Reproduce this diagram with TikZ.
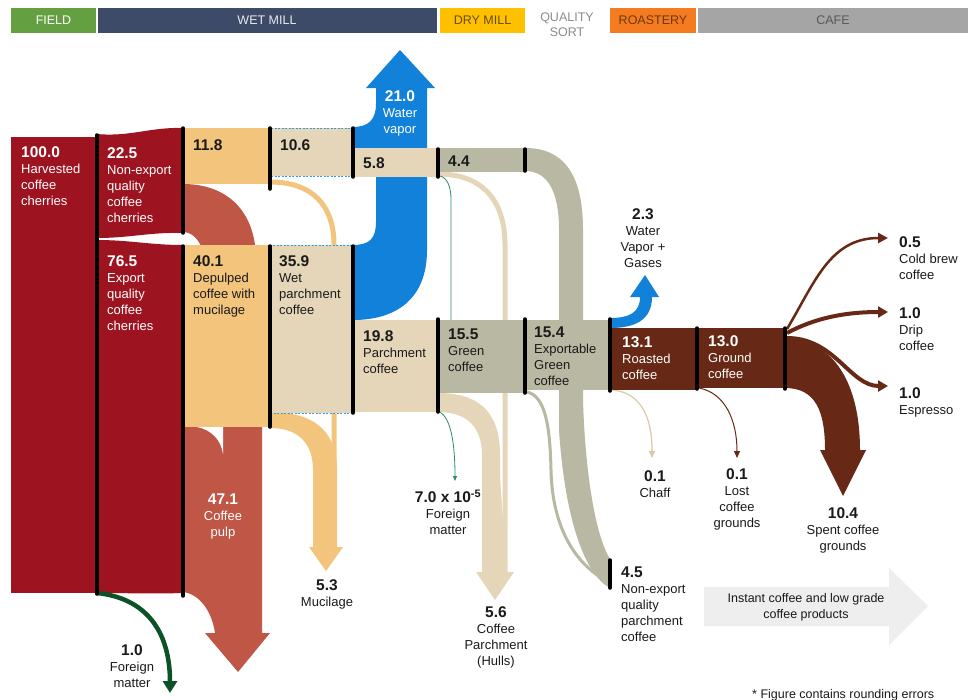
\documentclass[tikz,border=0pt]{standalone}
\usepackage{fontspec}
\setmainfont{Liberation Sans}
\usetikzlibrary{arrows.meta}
\newcommand{\fnum}[1]{{\fontsize{15.5}{16}\selectfont\bfseries #1}}
\definecolor{cRed}{HTML}{9D1420}
\definecolor{cPulp}{HTML}{BF5646}
\definecolor{cTan}{HTML}{F2C47C}
\definecolor{cBeige}{HTML}{E5D6B9}
\definecolor{cBeigeDark}{HTML}{DCC9A6}
\definecolor{cGray}{HTML}{B8B8A3}
\definecolor{cBrown}{HTML}{672915}
\definecolor{cBlue}{HTML}{1281DA}
\definecolor{cGreen}{HTML}{0B5226}
\definecolor{cTeal}{HTML}{2E8B6B}
\definecolor{cDash}{HTML}{2F9FE3}
\definecolor{cText}{HTML}{1A1A1A}
\definecolor{hGreen}{HTML}{64A041}
\definecolor{hNavy}{HTML}{3D4B68}
\definecolor{hYellow}{HTML}{FFC000}
\definecolor{hOrange}{HTML}{F47B20}
\definecolor{hGrayBox}{HTML}{A5A5A5}
\definecolor{cInstant}{HTML}{EEEEEE}
\begin{document}
\begin{tikzpicture}[x=1pt, y=-1pt,
  lab/.style={inner sep=0pt, font=\fontsize{13}{16}\selectfont, align=left, text=cText},
  clab/.style={lab, align=center, anchor=north},
  wlab/.style={lab, text=white, anchor=north west},
  dlab/.style={lab, anchor=north west},
  bar/.style={line width=3.5pt, line cap=round, black},
  dbox/.style={fill=cBeige, draw=cDash, line width=1pt, dash pattern=on 2pt off 1.5pt},
  hbox/.style={inner sep=0pt, minimum height=25pt, font=\fontsize{12.5}{14}\selectfont},
  thinarrow/.style={-{Triangle[length=7pt,width=6pt]}}
]
\useasboundingbox (0,0) rectangle (968,699);
\fill[white] (0,0) rectangle (968,699);

% ---------- header ----------
\node[hbox, fill=hGreen, text=white, minimum width=85pt] (hField) at (53.5,20.5) {FIELD};
\node[hbox, fill=hNavy, text=white!88!hNavy, minimum width=339pt] (hWet) at (267,20.5) {WET MILL};
\node[hbox, fill=hYellow, text=black!60!hYellow, minimum width=85pt] (hDry) at (482.5,20.5) {DRY MILL};
\node[inner sep=0pt, font=\fontsize{12.5}{15}\selectfont, align=center, text=black!45] (hSort) at (567,24.5) {QUALITY\\SORT};
\node[hbox, fill=hOrange, text=black!55!hOrange, minimum width=86pt] (hRoast) at (653,20.5) {ROASTERY};
\node[hbox, fill=hGrayBox, text=black!65, minimum width=270pt] (hCafe) at (833,20.5) {CAFE};

% ---------- coffee pulp ----------
\fill[cPulp] (183,184) .. controls (228,184) and (256,212) .. (256,260) -- (205,260)
  .. controls (203,245) and (195,232) .. (183,232) -- cycle;
\fill[cPulp] (183,427) -- (183,592) .. controls (200,594) and (212,612) .. (215,633)
  -- (205,633) -- (238,672) -- (270,633) -- (262,633) -- (262,427) -- cycle;
\fill[white] (197,427) .. controls (212,430) and (221,440) .. (223,454) -- (223,427) -- cycle;

% ---------- mucilage ----------
\draw[cTan, line width=5pt] (270,182) .. controls (312,182) and (334,205) .. (334,245) -- (334,470);
\fill[cTan] (270,412) .. controls (318,412) and (337,435) .. (337,470) -- (337,547) -- (343,547)
  -- (326,571) -- (309,547) -- (313,547) -- (313,470) .. controls (313,445) and (300,428) .. (270,428) -- cycle;

% ---------- water vapor (wet mill) ----------
\fill[cBlue] (400,50) -- (435,88) -- (427,88) -- (427,250) .. controls (427,300) and (395,320) .. (353,320)
  -- (353,245) .. controls (370,245) and (376,238) .. (376,222) -- (376,152) -- (353,152)
  -- (353,127) .. controls (368,127) and (376,120) .. (376,104) -- (376,88) -- (366,88) -- cycle;

% ---------- parchment hulls ----------
\draw[cBeige, line width=5pt] (438,174) .. controls (482,174) and (505,200) .. (505,245) -- (505,572);
\fill[cBeige] (438,393) .. controls (482,393) and (500,415) .. (500,455) -- (500,572) -- (514,572)
  -- (495,600) -- (476,572) -- (482,572) -- (482,455) .. controls (482,428) and (468,412) .. (438,412) -- cycle;
\fill[cBeige] (499.5,470) -- (503,520) -- (503,572) -- (499.5,572) -- cycle;

% ---------- non-export parchment ----------
\fill[cGray] (525,148) .. controls (562,148) and (583,172) .. (583,230) -- (583,400)
  .. controls (585,470) and (595,535) .. (610,559) -- (610,588)
  .. controls (585,575) and (565,520) .. (559,430) -- (559,230)
  .. controls (559,192) and (548,171) .. (525,171) -- cycle;
\draw[cGray, line width=3pt] (527,392) .. controls (545,396) and (550,425) .. (551,470)
  .. controls (552,520) and (570,560) .. (605,580);

% ---------- foreign matter (dry mill) ----------
\draw[cTeal, line width=0.8pt] (440,176) .. controls (448,178) and (451,188) .. (451,200) -- (451,330);
\draw[cTeal, line width=0.8pt, -{Triangle[length=5pt,width=4pt]}] (440,412) .. controls (450,418) and (455,440) .. (455,481);

% ---------- roasting gases ----------
\fill[cBlue] (610,318) .. controls (630,318) and (640,312) .. (640,297) -- (630,297) -- (645,275)
  -- (659,297) -- (652,297) .. controls (652,320) and (635,328) .. (610,328) -- cycle;

% ---------- cafe ----------
\fill[cBrown] (785,338) .. controls (835,340) and (860,385) .. (860,450) -- (866,450) -- (843,496)
  -- (820,450) -- (825,450) .. controls (825,410) and (815,388) .. (785,388) -- cycle;
\draw[cBrown, line width=2.5pt, -{Triangle[length=10pt,width=10pt]}] (787,329) .. controls (815,282) and (830,238) .. (888,238);
\draw[cBrown, line width=4pt, -{Triangle[length=10pt,width=11pt]}] (787,333) .. controls (815,318) and (845,312) .. (888,312);
\draw[cBrown, line width=4pt, -{Triangle[length=10pt,width=11pt]}] (787,338) .. controls (835,338) and (850,386) .. (888,386);
\draw[cBeigeDark, line width=1.2pt, thinarrow] (613,390) .. controls (640,393) and (652,415) .. (652,458);
\draw[cBrown, line width=1pt, thinarrow] (699,388) .. controls (725,393) and (737,420) .. (737,458);

% ---------- field ----------
\fill[cRed] (11,137) rectangle (97,593);
\fill[cRed] (97,134) .. controls (130,137) and (150,127) .. (183,128) -- (183,233)
  .. controls (150,232) and (130,238) .. (97,238) -- cycle;
\fill[cRed] (97,240) .. controls (130,240) and (150,245) .. (183,245) -- (183,593)
  .. controls (150,594) and (130,593) .. (97,593) -- cycle;
\draw[cGreen, line width=4.5pt, -{Triangle[length=12pt,width=14pt]}] (97,593) .. controls (145,598) and (170,630) .. (170,693);

% ---------- boxes ----------
\fill[cTan] (183,128) rectangle (270,184);
\fill[cTan] (183,245) rectangle (270,427);
\path[dbox] (270,128) rectangle (353,176);
\path[dbox] (270,245) rectangle (353,413);
\fill[cBeige] (353,148) rectangle (438,177);
\fill[cBeige] (353,320) rectangle (438,412);
\fill[cGray] (438,148) rectangle (525,172);
\fill[cGray] (438,320) rectangle (525,393);
\fill[cGray] (525,320) rectangle (610,390);
\fill[cBrown] (610,328) rectangle (697,390);
\fill[cBrown] (697,328) rectangle (785,388);

% ---------- bars ----------
\draw[bar] (97,135) -- (97,594);
\draw[bar] (183,128) -- (183,233);
\draw[bar] (183,246) -- (183,596);
\draw[bar] (270,128) -- (270,189);
\draw[bar] (270,246) -- (270,427);
\draw[bar] (353,128) -- (353,177);
\draw[bar] (353,246) -- (353,413);
\draw[bar] (438,149) -- (438,177);
\draw[bar] (438,319) -- (438,412);
\draw[bar] (525,149) -- (525,171);
\draw[bar] (525,319) -- (525,393);
\draw[bar] (610,319) -- (610,391);
\draw[bar] (610,560) -- (610,588);
\draw[bar] (697,328) -- (697,389);
\draw[bar] (785,328) -- (785,389);

% ---------- labels ----------
\node[wlab] (lHarv) at (21,146.4) {\fnum{100.0}\\Harvested\\coffee\\cherries};
\node[wlab] (lNonExp) at (107,147.4) {\fnum{22.5}\\Non-export\\quality\\coffee\\cherries};
\node[wlab] (lExp) at (107,255.4) {\fnum{76.5}\\Export\\quality\\coffee\\cherries};
\node[dlab] (l118) at (193,139.4) {\fnum{11.8}};
\node[dlab] (l106) at (280,139.4) {\fnum{10.6}};
\node[dlab] (l401) at (193,255.4) {\fnum{40.1}\\Depulped\\coffee with\\mucilage};
\node[dlab] (l359) at (279,255.4) {\fnum{35.9}\\Wet\\parchment\\coffee};
\node[clab, text=white] (lVapor) at (400,90.4) {\fnum{21.0}\\Water\\vapor};
\node[dlab] (l58) at (363,157.4) {\fnum{5.8}};
\node[dlab] (l44) at (448,155.4) {\fnum{4.4}};
\node[dlab] (l198) at (363,330.4) {\fnum{19.8}\\Parchment\\coffee};
\node[dlab] (l155) at (448,328.4) {\fnum{15.5}\\Green\\coffee};
\node[dlab] (l154) at (534,326.4) {\fnum{15.4}\\Exportable\\Green\\coffee};
\node[wlab] (l131) at (622,336.4) {\fnum{13.1}\\Roasted\\coffee};
\node[wlab] (l130) at (708,335.4) {\fnum{13.0}\\Ground\\coffee};
\node[clab] (l23) at (643,208.4) {\fnum{2.3}\\Water\\Vapor +\\Gases};
\node[dlab] (lCold) at (899,236.4) {\fnum{0.5}\\Cold brew\\coffee};
\node[dlab] (lDrip) at (899,307.4) {\fnum{1.0}\\Drip\\coffee};
\node[dlab] (lEsp) at (899,387.4) {\fnum{1.0}\\Espresso};
\node[clab] (lChaff) at (655,470.4) {\fnum{0.1}\\Chaff};
\node[clab] (lLost) at (737,468.4) {\fnum{0.1}\\Lost\\coffee\\grounds};
\node[clab] (lSpent) at (843,507.4) {\fnum{10.4}\\Spent coffee\\grounds};
\node[clab, text=white] (lPulp) at (223,493.4) {\fnum{47.1}\\Coffee\\pulp};
\node[clab] (lMuc) at (327,579.4) {\fnum{5.3}\\Mucilage};
\node[clab] (lFM2) at (448,489.4) {\fnum{7.0 x 10\textsuperscript{-5}}\\Foreign\\matter};
\node[clab] (lHulls) at (496,606.4) {\fnum{5.6}\\Coffee\\Parchment\\(Hulls)};
\node[dlab] (l45) at (621,566.4) {\fnum{4.5}\\Non-export\\quality\\parchment\\coffee};
\node[clab] (lFM1) at (132,644.4) {\fnum{1.0}\\Foreign\\matter};

% ---------- instant coffee ----------
\fill[cInstant] (704,587) -- (889,587) -- (889,568) -- (928,606) -- (889,645) -- (889,626) -- (704,626) -- cycle;
\node[inner sep=0pt, font=\fontsize{12.5}{16}\selectfont, align=center, text=cText] (lInstant) at (806,607) {Instant coffee and low grade\\coffee products};
\node[inner sep=0pt, font=\fontsize{12.5}{14}\selectfont, anchor=base west, text=cText] (lNote) at (752,698) {* Figure contains rounding errors};
\end{tikzpicture}
\end{document}
